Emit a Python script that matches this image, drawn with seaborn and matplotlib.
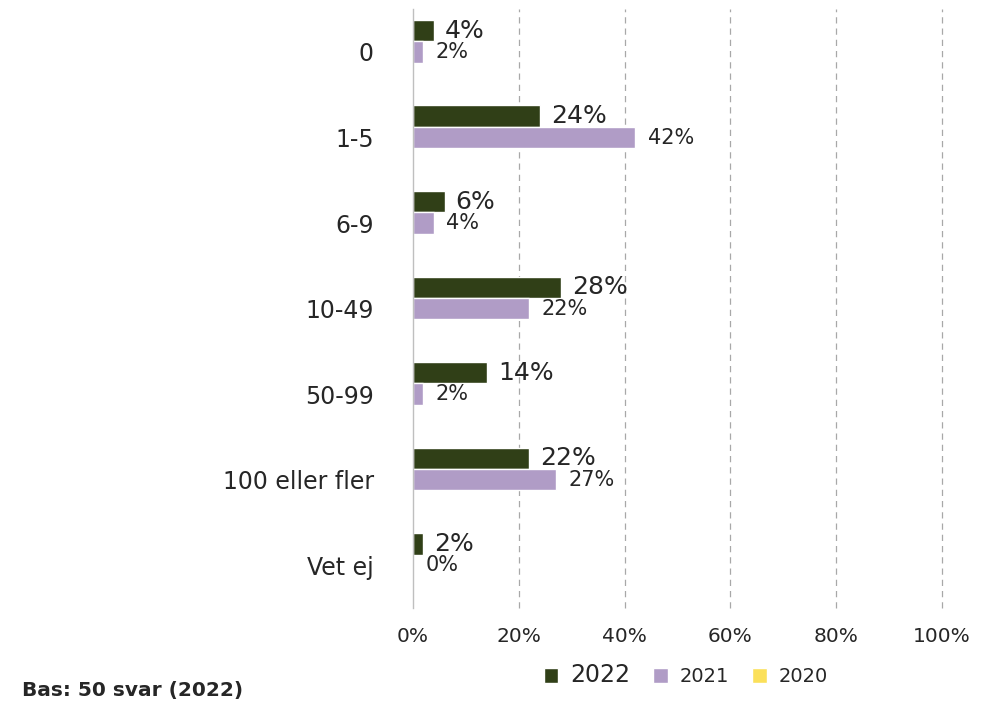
import numpy as np
import pandas as pd
import seaborn as sns
import matplotlib.pyplot as plt

categories = ['0', '1-5', '6-9', '10-49', '50-99', '100 eller fler', 'Vet ej']
years = ['2022', '2021', '2020']
values_2022 = [4, 24, 6, 28, 14, 22, 2]
values_2021 = [2, 42, 4, 22, 2, 27, 0]
values_2020 = [0, 0, 0, 0, 0, 0, 0]
colors = ['#303f17', '#b09cc6', '#fbe05a']

df = pd.DataFrame({
    'category': categories * 3,
    'year': ['2022'] * 7 + ['2021'] * 7 + ['2020'] * 7,
    'value': values_2022 + values_2021 + values_2020,
})

sns.set_style('white')
plt.rcParams['font.family'] = ['DejaVu Sans']

fig = plt.figure(figsize=(9.97, 7.07), dpi=100)
ax = fig.add_axes([0.414, 0.140, 0.531, 0.847])

sns.barplot(data=df, x='value', y='category', hue='year', hue_order=years,
            order=categories, palette=colors, orient='h', width=0.75,
            saturation=1, edgecolor='white', linewidth=1, ax=ax, legend=True)

ax.set_xlim(0, 100)
ax.set_xticks(np.arange(0, 101, 20))
ax.set_xticklabels([f'{t}%' for t in range(0, 101, 20)], fontsize=14.5, color='#262626')
ax.tick_params(axis='y', labelsize=17, colors='#262626', length=0, pad=28)
ax.tick_params(axis='x', length=0, pad=14)
ax.set_xlabel('')
ax.set_ylabel('')

for x in range(20, 101, 20):
    ax.axvline(x, color='#a8a8a8', linestyle=(0, (5, 4)), linewidth=0.9,
               zorder=0, clip_on=False)

for s in ['top', 'right', 'bottom']:
    ax.spines[s].set_visible(False)
ax.spines['left'].set_color('#bfbfbf')
ax.spines['left'].set_linewidth(1)

# labels: 2022 big, 2021 smaller, 2020 none
ax.bar_label(ax.containers[0], labels=[f'{v}%' for v in values_2022],
             padding=8, fontsize=18, color='#262626')
ax.bar_label(ax.containers[1], labels=[f'{v}%' for v in values_2021],
             padding=9, fontsize=15, color='#262626')

handles, labels = ax.get_legend_handles_labels()
ax.get_legend().remove()
leg = fig.legend(handles, labels, loc='center', bbox_to_anchor=(0.688, 0.045),
                 ncol=3, frameon=False, fontsize=14, handlelength=0.75,
                 handleheight=0.75, handletextpad=0.6, columnspacing=1.2)
leg.get_texts()[0].set_fontsize(17)
for t in leg.get_texts():
    t.set_color('#262626')

fig.text(0.022, 0.024, 'Bas: 50 svar (2022)', fontsize=14.5, fontweight='bold',
         color='#262626', ha='left', va='center')

fig.savefig('out.png', dpi=100)
